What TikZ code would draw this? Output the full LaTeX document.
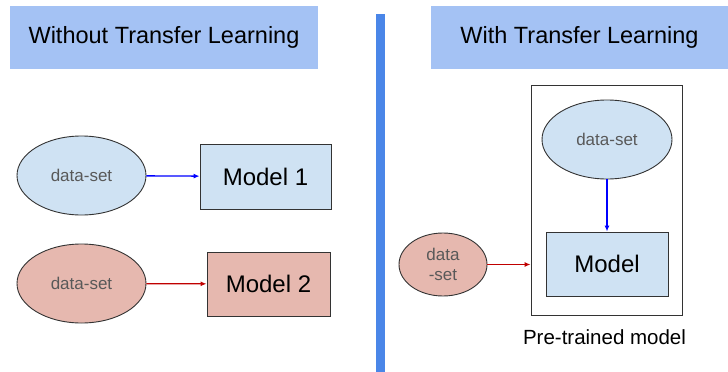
\documentclass[tikz,border=0pt]{standalone}
\usepackage{fontspec}
\setmainfont{Liberation Sans}
\usetikzlibrary{shapes.geometric,arrows.meta}
\definecolor{headblue}{HTML}{A4C2F4}
\definecolor{barblue}{HTML}{4A86E8}
\definecolor{lightblue}{HTML}{CFE2F3}
\definecolor{lightred}{HTML}{E6B8AF}
\definecolor{darkred}{HTML}{C00000}
\definecolor{edgegray}{HTML}{333333}

\begin{document}
\begin{tikzpicture}[x=1pt,y=-1pt]
\tikzstyle{header}=[fill=headblue,inner sep=0pt,font=\fontsize{23.5}{26}\selectfont]
\tikzstyle{dataset}=[draw=edgegray,ellipse,inner sep=0pt,line width=0.9pt,text=black!65,font=\fontsize{17}{19}\selectfont]
\tikzstyle{model}=[draw=edgegray,rectangle,inner sep=0pt,line width=0.9pt,font=\fontsize{24}{26}\selectfont]
\tikzstyle{feed}=[line width=1.3pt,-{Latex[length=6pt,width=5pt]}]
\useasboundingbox (0,0) rectangle (728,372);
\node [header,minimum width=308,minimum height=63] (hleft) at (164,37.5) {Without Transfer Learning};
\node [header,minimum width=297,minimum height=63] (hright) at (579.5,37.5) {With Transfer Learning};
\fill [barblue] (376,14) rectangle (385,372);
\node [dataset,fill=lightblue,minimum width=129,minimum height=79] (dsa) at (81.5,175.5) {data-set};
\node [model,fill=lightblue,minimum width=131,minimum height=65] (ma) at (265.5,176.5) {Model 1};
\node [dataset,fill=lightred,minimum width=129,minimum height=79] (dsb) at (81.5,283.5) {data-set};
\node [model,fill=lightred,minimum width=123,minimum height=64] (mb) at (268.5,284) {Model 2};
\node [draw=edgegray,line width=0.9pt,minimum width=151,minimum height=230,inner sep=0pt] (pretrained) at (606.5,200) {};
\node [dataset,fill=lightblue,minimum width=130,minimum height=79] (dsc) at (607,139.5) {data-set};
\node [model,fill=lightblue,minimum width=122,minimum height=64] (mc) at (607,264) {Model};
\node [dataset,fill=lightred,minimum width=88,minimum height=63,align=center,font=\fontsize{17}{20}\selectfont] (dsd) at (443,264.5) {data\\-set};
\node [font=\fontsize{20.5}{23}\selectfont] (cap) at (604.5,337) {Pre-trained model};
\draw [feed,blue] (dsa) -- (ma);
\draw [feed,darkred] (dsb) -- (mb);
\draw [feed,blue] (dsc) -- (mc);
\draw [feed,darkred] (dsd.east) -- (dsd.east -| pretrained.west);
\end{tikzpicture}
\end{document}
